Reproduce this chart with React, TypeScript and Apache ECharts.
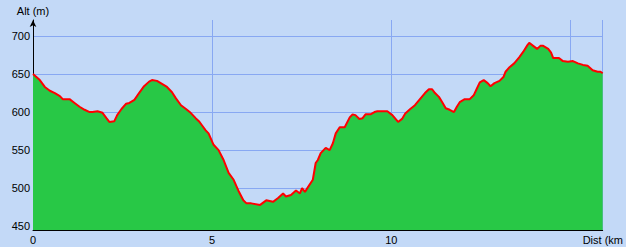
import React, { useEffect, useRef } from "react";
import * as echarts from "echarts";

const distKm = [
  0.0, 0.19, 0.33, 0.47, 0.61, 0.75, 0.83, 1.02, 1.16, 1.3, 1.44, 1.58, 1.66, 1.8, 1.94, 2.05,
  2.13, 2.27, 2.35, 2.47, 2.6, 2.69, 2.83, 2.96, 3.1, 3.24, 3.32, 3.46, 3.6, 3.74, 3.88, 3.99,
  4.13, 4.27, 4.4, 4.54, 4.63, 4.71, 4.82, 4.9, 5.04, 5.18, 5.32, 5.46, 5.6, 5.73, 5.87, 5.96,
  6.09, 6.34, 6.51, 6.7, 6.84, 6.98, 7.06, 7.2, 7.34, 7.45, 7.51, 7.59, 7.67, 7.81, 7.89, 7.95,
  8.03, 8.17, 8.28, 8.37, 8.45, 8.56, 8.7, 8.84, 8.92, 9.0, 9.11, 9.2, 9.28, 9.42, 9.53, 9.61,
  9.89, 10.03, 10.19, 10.3, 10.39, 10.53, 10.66, 10.8, 10.94, 11.05, 11.14, 11.22, 11.33, 11.41,
  11.52, 11.63, 11.75, 11.83, 11.91, 12.05, 12.19, 12.3, 12.38, 12.47, 12.58, 12.69, 12.77,
  12.88, 13.02, 13.13, 13.19, 13.3, 13.43, 13.57, 13.68, 13.8, 13.85, 13.96, 14.07, 14.16,
  14.24, 14.38, 14.46, 14.52, 14.68, 14.79, 14.93, 15.07, 15.21, 15.35, 15.48, 15.62, 15.76,
  15.84, 15.9,
];

const altM = [
  650, 642, 633, 628, 625, 621, 617, 617, 612, 607, 603, 600, 600, 601, 599, 592,
  587, 588, 596, 604, 611, 612, 616, 625, 634, 640, 642, 641, 637, 633, 626, 618,
  609, 604, 599, 592, 588, 583, 576, 572, 557, 550, 537, 520, 511, 497, 484, 480,
  480, 478, 484, 482, 487, 493, 489, 491, 497, 493, 500, 495, 501, 511, 533, 537,
  546, 553, 550, 559, 572, 580, 580, 593, 597, 596, 591, 592, 597, 597, 600, 601,
  601, 596, 587, 591, 598, 604, 609, 617, 625, 630, 630, 625, 620, 614,
  605, 603, 600, 607, 613, 617, 617, 622, 630, 639, 642, 638, 634,
  638, 641, 646, 653, 659, 664, 672, 679, 688, 691, 687, 683, 687,
  687, 683, 678, 671, 671, 667, 666, 667, 664, 662, 661, 655, 653,
  653, 651,
];

const xTickStep = 5;
const hiddenXLabels = [15];

const FONT = "'Liberation Sans', Arial, sans-serif";

export default function App() {
  const ref = useRef<HTMLDivElement>(null);
  useEffect(() => {
    document.body.style.margin = "0";
    const chart = echarts.init(ref.current!, null, { renderer: "svg", width: 626, height: 247 });
    const data = distKm.map((d, i) => [d, altM[i]]);
    chart.setOption({
      animation: false,
      backgroundColor: "#C3D9F7",
      grid: { left: 33, top: 20, width: 574, height: 210, containLabel: false },
      xAxis: {
        type: "value",
        min: 0,
        max: 15.9,
        interval: xTickStep,
        name: "Dist (km",
        nameLocation: "end",
        nameGap: 0,
        nameTextStyle: {
          color: "#000",
          fontFamily: FONT,
          fontSize: 11,
          align: "left",
          verticalAlign: "top",
          padding: [4, 0, 0, -20],
        },
        axisLine: { show: true, lineStyle: { color: "#000", width: 1 } },
        axisTick: { show: false },
        axisLabel: {
          color: "#000",
          fontFamily: FONT,
          fontSize: 11,
          margin: 4,
          showMaxLabel: false,
          formatter: (v: number) => (hiddenXLabels.includes(v) ? "" : String(v)),
        },
        splitLine: { show: true, lineStyle: { color: "#88A8F2", width: 1 } },
      },
      yAxis: {
        type: "value",
        min: 445,
        max: 721,
        splitNumber: 5,
        name: "Alt (m)",
        nameLocation: "end",
        nameGap: 4,
        nameTextStyle: {
          color: "#000",
          fontFamily: FONT,
          fontSize: 11,
          align: "center",
        },
        axisLine: {
          show: true,
          symbol: ["none", "arrow"],
          symbolSize: [5, 7],
          lineStyle: { color: "#000", width: 1 },
        },
        axisTick: { show: false },
        axisLabel: {
          color: "#000",
          fontFamily: FONT,
          fontSize: 11,
          margin: 3,
          showMinLabel: false,
          showMaxLabel: false,
        },
        splitLine: {
          show: true,
          showMinLine: false,
          showMaxLine: false,
          lineStyle: { color: "#88A8F2", width: 1 },
        },
      },
      series: [
        {
          type: "line",
          data,
          showSymbol: false,
          symbol: "none",
          lineStyle: { color: "#FF0000", width: 2 },
          areaStyle: { color: "#28C846", opacity: 1, origin: "start" },
          z: 3,
        },
      ],
    });
    return () => chart.dispose();
  }, []);
  return (
    <div
      ref={ref}
      style={{ position: "absolute", left: 0, top: 0, width: 626, height: 247 }}
    />
  );
}
